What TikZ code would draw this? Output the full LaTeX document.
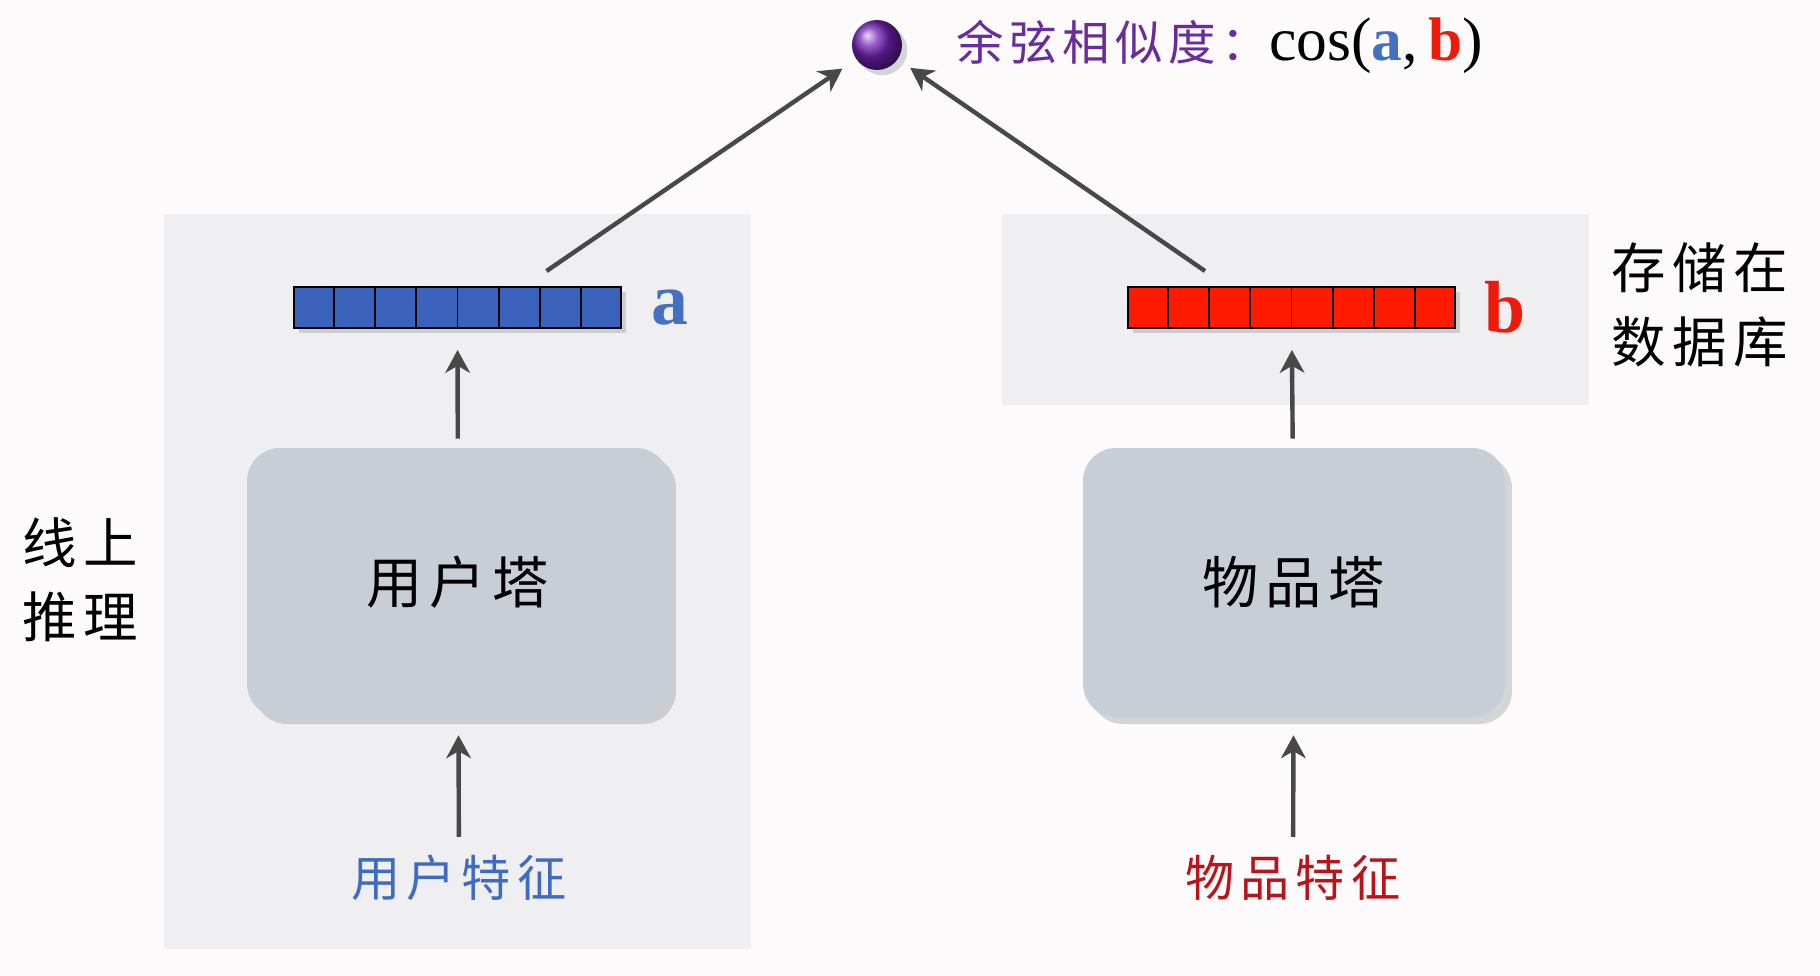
\documentclass[tikz,border=0pt]{standalone}
\usepackage{fontspec}
\setmainfont{Noto Sans CJK SC}
\newfontfamily\cjk[LetterSpace=12]{Noto Sans CJK SC}
\newfontfamily\latinserif{Liberation Serif}
\usepackage{tikz}
\usetikzlibrary{arrows.meta,positioning,calc,shadows}

\definecolor{bgwhite}{HTML}{FCFAFB}
\definecolor{panelgray}{HTML}{EFEEF0}
\definecolor{towergray}{HTML}{C8CED6}
\definecolor{vecblue}{HTML}{3A62BA}
\definecolor{vecred}{HTML}{FF1A00}
\definecolor{labelblue}{HTML}{4470C2}
\definecolor{labelred}{HTML}{EE1A0A}
\definecolor{featblue}{HTML}{3F6CC0}
\definecolor{featred}{HTML}{B8141A}
\definecolor{titlepurple}{HTML}{6A2C9A}
\definecolor{ballpurple}{HTML}{7424B8}
\definecolor{arrgray}{HTML}{484848}

\tikzset{
  vec/.style={draw=black,line width=1.1pt,minimum width=6.54cm,minimum height=0.82cm,inner sep=0pt,
    drop shadow={shadow xshift=3pt,shadow yshift=-3pt,opacity=0.3}},
  vlabel/.style={font=\latinserif\bfseries\fontsize{42}{46}\selectfont,inner sep=0pt},
  tower/.style={fill=towergray,rounded corners=0.66cm,minimum width=8.44cm,minimum height=5.38cm,
    drop shadow={shadow xshift=4pt,shadow yshift=-4pt,opacity=0.3},font=\cjk\fontsize{32}{36}\selectfont},
  feat/.style={font=\cjk\fontsize{28}{32}\selectfont,inner sep=0pt},
  side/.style={font=\cjk\fontsize{31}{42}\selectfont,align=center,inner sep=0pt},
  arr/.style={->,draw=arrgray,line width=2.5pt}
}

\begin{document}
\begin{tikzpicture}[x=0.02cm,y=-0.02cm,>={Stealth[length=13pt,width=14pt,inset=4pt]}]
  \fill[bgwhite] (0,0) rectangle (1820,976); % canvas
  \fill[panelgray] (164,214) rectangle (751,949); % online part
  \fill[panelgray] (1002,214) rectangle (1589,405); % stored part

  % similarity
  \node[circle,ball color=ballpurple,minimum size=1cm,inner sep=0pt,
    drop shadow={shadow xshift=3pt,shadow yshift=-3pt,opacity=0.3}] (sim) at (877,45) {};
  \node[anchor=west,inner sep=0pt] (simtxt) at (956,46)
    {\cjk\fontsize{27}{30}\selectfont\color{titlepurple}余弦相似度：{\latinserif\fontsize{35}{38}\selectfont\color{black}cos(\textcolor{labelblue}{\bfseries a},\,\textcolor{labelred}{\bfseries b})}};

  % vectors
  \node[vec,fill=vecblue] (veca) at (457.5,307.5) {};
  \node[vec,fill=vecred] (vecb) at (1291.5,307.5) {};
  \foreach \v in {veca,vecb}
    \foreach \i in {1,...,7}
      \draw[line width=1.1pt] ($(\v.north west)!\i/8!(\v.north east)$) -- ($(\v.south west)!\i/8!(\v.south east)$);
  \node[vlabel,text=labelblue,right=0.58cm of veca] (la) {a};
  \node[vlabel,text=labelred,right=0.56cm of vecb] (lb) {b};

  % towers
  \node[tower] (utower) at (458,582.5) {用户塔};
  \node[tower] (itower) at (1294,582.5) {物品塔};
  \node[feat,text=featblue] (ufeat) at (459,878) {用户特征};
  \node[feat,text=featred] (ifeat) at (1293,878) {物品特征};

  % side notes
  \node[side] (online) at (80,580) {线上\\推理};
  \node[side] (store) at (1700,305) {存储在\\数据库};

  % arrows
  \draw[arr,shorten <=0.36cm,shorten >=0.36cm] (ufeat) -- (utower);
  \draw[arr,shorten <=0.36cm,shorten >=0.36cm] (ifeat) -- (itower);
  \draw[arr,shorten <=0.18cm,shorten >=0.42cm] (utower) -- (veca);
  \draw[arr,shorten <=0.18cm,shorten >=0.42cm] (itower) -- (vecb);
  \coordinate (outa) at ($(veca.north)+(89,-15)$);
  \coordinate (outb) at ($(vecb.north)+(-86.5,-15)$);
  \draw[arr,shorten >=0.33cm] (outa) -- (sim);
  \draw[arr,shorten >=0.3cm] (outb) -- (sim);
\end{tikzpicture}
\end{document}
